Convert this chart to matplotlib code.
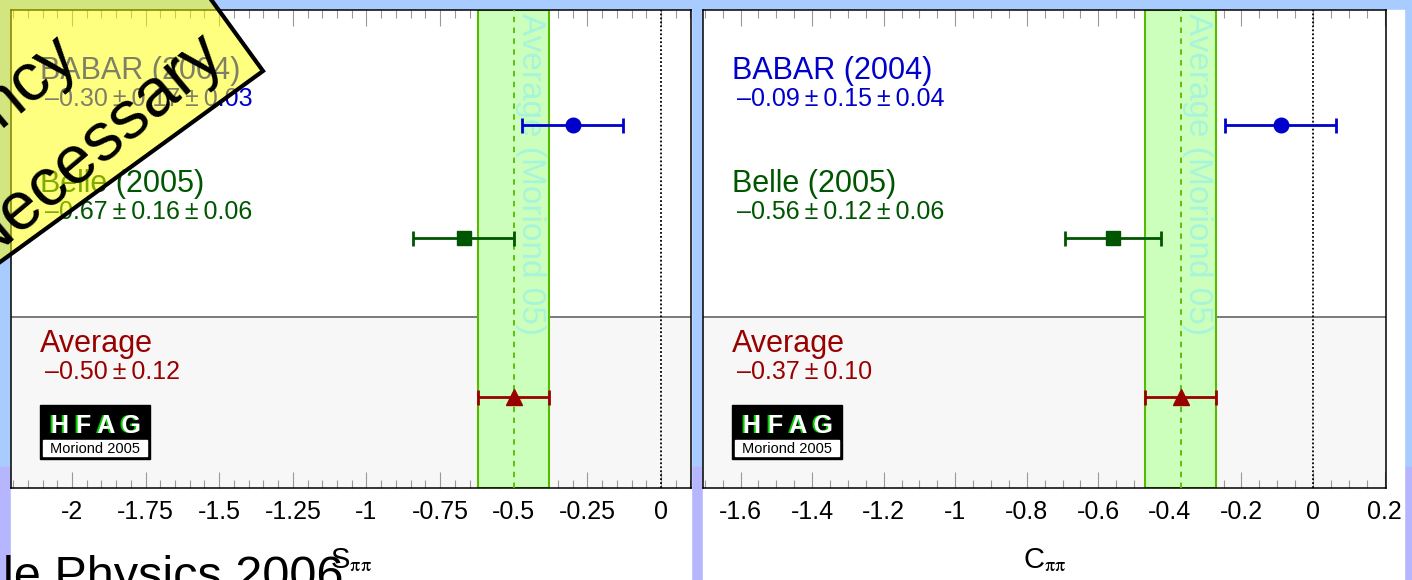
import numpy as np
import matplotlib.pyplot as plt
from matplotlib.patches import Rectangle, Polygon
from matplotlib.ticker import MultipleLocator, FuncFormatter

plt.rcParams['font.family'] = ['Liberation Sans', 'DejaVu Sans']
plt.rcParams['mathtext.fontset'] = 'stix'
plt.rcParams['axes.unicode_minus'] = False

# measurements: S_pipi and C_pipi (value, stat, syst)
experiments = ['BABAR (2004)', 'Belle (2005)']
exp_colors = ['#0000cc', '#005500']
exp_markers = ['o', 's']
s_values = [-0.30, -0.67]
s_stat = [0.17, 0.16]
s_syst = [0.03, 0.06]
s_avg, s_avg_err = -0.50, 0.12
c_values = [-0.09, -0.56]
c_stat = [0.15, 0.12]
c_syst = [0.04, 0.06]
c_avg, c_avg_err = -0.37, 0.10

W, H = 1412, 580
fig = plt.figure(figsize=(W / 100, H / 100), dpi=100)
fig.patch.set_facecolor('#a8ccff')


def fx(px):
    return px / W


def fy(py):
    return 1 - py / H


# slide background and white panels
fig.add_artist(Rectangle((0, 0), 1, (H - 467) / H, transform=fig.transFigure,
                         color='#b6b6ff', zorder=-2))
fig.add_artist(Rectangle((fx(11), 0), (691 - 11) / W, fy(10), transform=fig.transFigure,
                         color='white', zorder=-1))
fig.add_artist(Rectangle((fx(703), 0), (1404 - 703) / W, fy(10), transform=fig.transFigure,
                         color='white', zorder=-1))

row_y = [7.59, 5.23]
avg_y = 1.90
split_y = 3.58
TS = '\u2009'


def fmt_val(v):
    return ('\u2013' if v < 0 else '') + '%.2f' % abs(v)


def draw_panel(ax, left_px, values, stat, syst, avg, avg_err, xlim, major, minor, label):
    ax.set_xlim(*xlim)
    ax.set_ylim(0, 10)
    ax.axhspan(0, split_y, color='#f7f7f7', zorder=0)
    ax.axhline(split_y, color='#707070', lw=1.3, zorder=1)
    ax.axvspan(avg - avg_err, avg + avg_err, facecolor='#ccffbb', edgecolor='#55bb00',
               lw=1.5, zorder=2)
    ax.axvline(avg, color='#55bb00', ls=(0, (3, 3)), lw=1.3, zorder=3)
    ax.axvline(0, color='black', ls=(0, (1, 1.2)), lw=1.3, zorder=3)
    ax.annotate('Average (Moriond 05)', xy=(avg, 1), xycoords=('data', 'axes fraction'),
                xytext=(5.8, -2.2), textcoords='offset points', rotation=-90,
                rotation_mode='anchor', ha='left', va='baseline', fontsize=24,
                color='#a6f5dc', zorder=3)

    tx = 29 / (ax.get_position().width * W)
    nx = 34 / (ax.get_position().width * W)
    for i in range(len(values)):
        err = np.hypot(stat[i], syst[i])
        c = exp_colors[i]
        ax.errorbar(values[i], row_y[i], xerr=err, fmt=exp_markers[i], color=c, ms=10.5,
                    capsize=5.4, elinewidth=2.0, capthick=2.0, zorder=5)
        ax.text(tx, row_y[i] + 0.97, experiments[i], transform=ax.get_yaxis_transform(),
                fontsize=22, color=c, va='baseline')
        ax.text(nx, row_y[i] + 0.40,
                fmt_val(values[i]) + TS + '\u00b1' + TS + '%.2f' % stat[i] + TS + '\u00b1'
                + TS + '%.2f' % syst[i],
                transform=ax.get_yaxis_transform(), fontsize=18, color=c, va='baseline')
    ax.errorbar(avg, avg_y, xerr=avg_err, fmt='^', color='#990000', ms=11.5,
                capsize=5.4, elinewidth=2.0, capthick=2.0, zorder=5)
    ax.text(tx, avg_y + 0.95, 'Average', transform=ax.get_yaxis_transform(),
            fontsize=22, color='#990000', va='baseline')
    ax.text(nx, avg_y + 0.38, fmt_val(avg) + TS + '\u00b1' + TS + '%.2f' % avg_err,
            transform=ax.get_yaxis_transform(), fontsize=18, color='#990000', va='baseline')

    ax.xaxis.set_major_locator(MultipleLocator(major))
    ax.xaxis.set_minor_locator(MultipleLocator(minor))
    ax.xaxis.set_major_formatter(FuncFormatter(lambda v, p: '%g' % round(v, 4)))
    ax.tick_params(which='both', direction='in', top=True, bottom=True, left=False,
                   labelleft=False, color='#999999', width=0.8, labelsize=18, pad=8.5)
    ax.tick_params(which='major', length=11.5)
    ax.tick_params(which='minor', length=5.5)
    ax.set_yticks([])
    for sp in ax.spines.values():
        sp.set_linewidth(1.1)
    ax.set_xlabel(label, fontsize=21)
    ax.xaxis.set_label_coords(0.5, (488 - 546) / 478)

    # HFAG logo
    x0 = left_px + 29
    fig.add_artist(Rectangle((fx(x0), fy(459)), 110 / W, 54 / H, transform=fig.transFigure,
                             color='black', zorder=1))
    fig.add_artist(Rectangle((fx(x0 + 3), fy(456)), 104 / W, 16 / H, transform=fig.transFigure,
                             color='white', zorder=1))
    fig.text(fx(x0 + 54), fy(433), 'H F A G', fontsize=18, fontweight='bold',
             color='#00cc00', ha='center', va='baseline', zorder=2)
    fig.text(fx(x0 + 56), fy(433), 'H F A G', fontsize=18, fontweight='bold',
             color='white', ha='center', va='baseline', zorder=2)
    fig.text(fx(x0 + 55), fy(453), 'Moriond 2005', fontsize=10.5, color='black',
             ha='center', va='baseline', zorder=2)


axL = fig.add_axes([fx(11), fy(488), (691 - 11) / W, (488 - 10) / H])
axR = fig.add_axes([fx(703), fy(488), (1386 - 703) / W, (488 - 10) / H])
draw_panel(axL, 11, s_values, s_stat, s_syst, s_avg, s_avg_err, (-2.207, 0.102),
           0.25, 0.05, 'S$_{\\mathrm{\\pi\\pi}}$')
draw_panel(axR, 703, c_values, c_stat, c_syst, c_avg, c_avg_err, (-1.705, 0.204),
           0.2, 0.05, 'C$_{\\mathrm{\\pi\\pi}}$')

# slide footer text and corner banner
fig.text(fx(3), fy(590), 'le Physics 2006', fontsize=35, color='black', va='baseline',
         zorder=5)

th = np.deg2rad(36)
u = np.array([np.cos(th), -np.sin(th)])
v = np.array([-np.sin(th), -np.cos(th)])
corner = np.array([263, 71])
pts = [corner, corner + 300 * v, corner + 300 * v - 600 * u, corner - 600 * u]
fig.add_artist(Polygon([(fx(p[0]), fy(p[1])) for p in pts], closed=True,
                       transform=fig.transFigure, facecolor=(1, 1, 0, 0.5),
                       edgecolor='black', lw=3, zorder=10))
fig.text(fx(226), fy(58), 'Necessary', fontsize=49, rotation=40, rotation_mode='anchor',
         ha='right', va='baseline', color='black', zorder=11)
fig.text(fx(80), fy(60), 'ncy', fontsize=49, rotation=40, rotation_mode='anchor',
         ha='right', va='baseline', color='black', zorder=11)

fig.savefig('out.png', dpi=100, facecolor=fig.get_facecolor())
